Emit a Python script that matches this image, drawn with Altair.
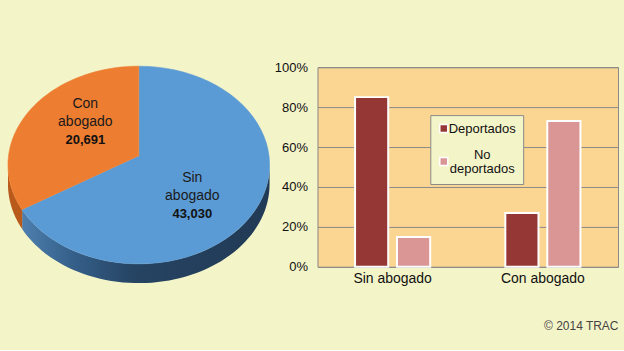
import altair as alt
import pandas as pd

# ---------------- data ----------------
pie_labels = ["Sin abogado", "Con abogado"]
pie_values = [43030, 20691]

bar_categories = ["Sin abogado", "Con abogado"]
series_names = ["Deportados", "No deportados"]
deportados = [85, 27]
no_deportados = [15, 73]
y_ticks = [0, 20, 40, 60, 80, 100]
credit = "© 2014 TRAC"

# ---------------- style ----------------
BG = "#F4F4C9"
PLOT_BG = "#FAD692"
GRID = "#8A8A8A"
FONT = "Arial, Liberation Sans, sans-serif"
PIE_COLORS = ["#5B9BD5", "#ED7D31"]
BAR_COLORS = ["#953735", "#D99694"]

pie_df = pd.DataFrame({"label": pie_labels, "value": pie_values,
                       "order": list(range(len(pie_labels)))})

rows = []
for i, c in enumerate(bar_categories):
    rows.append({"cat": c, "status": series_names[0], "pct": deportados[i]})
    rows.append({"cat": c, "status": series_names[1], "pct": no_deportados[i]})
bar_df = pd.DataFrame(rows)

# pie panel geometry (tilted ellipse drawn through x/y scales)
PW, PH = 280, 200
xs = alt.Scale(domain=[-138 / 131, (PW - 138) / 131], nice=False, zero=False)
ys = alt.Scale(domain=[-102 / 99, 98 / 99], nice=False, zero=False)
noaxis_x = alt.X("px:Q", scale=xs, axis=None)
noaxis_y = alt.Y("py:Q", scale=ys, axis=None)

base = (
    alt.Chart(pie_df)
    .transform_joinaggregate(total="sum(value)")
    .transform_window(cum="sum(value)", sort=[alt.SortField("order")], frame=[None, 0])
    .transform_calculate(
        a0="2*PI*(datum.cum - datum.value)/datum.total",
        a1="2*PI*datum.cum/datum.total",
    )
)

top = (
    base.transform_calculate(steps="sequence(0, 62)")
    .transform_flatten(["steps"], as_=["step"])
    .transform_calculate(
        ang="datum.a0 + (datum.a1 - datum.a0)*min(datum.step, 60)/60",
        px="datum.step <= 60 ? sin(datum.ang) : 0",
        py="datum.step <= 60 ? cos(datum.ang) : 0.09",
    )
    .mark_line(filled=True, strokeWidth=0.6)
    .encode(
        x=noaxis_x, y=noaxis_y, order=alt.Order("step:Q"),
        color=alt.Color("label:N", scale=alt.Scale(domain=pie_labels, range=PIE_COLORS), legend=None),
        stroke=alt.Stroke("label:N", scale=alt.Scale(domain=pie_labels, range=PIE_COLORS), legend=None),
        detail="label:N",
    )
)

side_base = (
    base.transform_calculate(b0="max(datum.a0, PI/2)", b1="min(datum.a1, 3*PI/2)")
    .transform_filter("datum.b1 > datum.b0")
    .transform_calculate(steps="sequence(0, 122)")
    .transform_flatten(["steps"], as_=["step"])
    .transform_calculate(
        ang="datum.step <= 60 ? datum.b0 + (datum.b1 - datum.b0)*datum.step/60 : datum.b1 - (datum.b1 - datum.b0)*(datum.step - 61)/60",
        px="sin(datum.ang)",
        py="cos(datum.ang) - (datum.step <= 60 ? 0 : 0.195)",
    )
)

blue_side = alt.LinearGradient(
    gradient="linear", x1=0, x2=1, y1=0, y2=0,
    stops=[alt.GradientStop(offset=0, color="#4E7FAE"),
           alt.GradientStop(offset=0.2, color="#35608A"),
           alt.GradientStop(offset=0.45, color="#264463"),
           alt.GradientStop(offset=1, color="#213A55")],
)
side_sin = (
    side_base.transform_filter(alt.datum.label == pie_labels[0])
    .mark_line(filled=True, fill=blue_side, strokeWidth=0)
    .encode(x=noaxis_x, y=noaxis_y, order=alt.Order("step:Q"))
)
side_con = (
    side_base.transform_filter(alt.datum.label == pie_labels[1])
    .mark_line(filled=True, fill="#B85A1C", strokeWidth=0)
    .encode(x=noaxis_x, y=noaxis_y, order=alt.Order("step:Q"))
)

lab = base.transform_calculate(
    mid="(datum.a0 + datum.a1)/2",
    px="0.48*sin(datum.mid)",
    py="0.7155*cos(datum.mid) + 0.06",
)
names = lab.mark_text(font=FONT, fontSize=14, lineBreak=" ", lineHeight=18,
                      baseline="middle", dy=-18, color="#1A1A1A").encode(
    x=noaxis_x, y=noaxis_y, text="label:N")
vals = lab.mark_text(font=FONT, fontSize=13, fontWeight="bold",
                     baseline="middle", dy=18, color="#111111").encode(
    x=noaxis_x, y=noaxis_y, text=alt.Text("value:Q", format=","))

pie = alt.layer(side_sin, side_con, top, names, vals).properties(
    width=PW, height=PH, view=alt.ViewBackground(stroke="transparent")
)

# ---------------- bar chart ----------------
bars = (
    alt.Chart(bar_df)
    .mark_bar(stroke="white", strokeWidth=2)
    .encode(
        x=alt.X("cat:N", sort=bar_categories,
                scale=alt.Scale(paddingInner=0.5, paddingOuter=0.25),
                axis=alt.Axis(title=None, labelAngle=0, labelFont=FONT, labelFontSize=14,
                              labelColor="#111111", ticks=False, tickSize=0, domain=False,
                              labelPadding=5, grid=False)),
        xOffset=alt.XOffset("status:N", sort=series_names,
                            scale=alt.Scale(paddingInner=0.21, paddingOuter=0)),
        y=alt.Y("pct:Q", scale=alt.Scale(domain=[0, 100], nice=False),
                axis=alt.Axis(title=None, values=y_ticks, labelExpr="datum.value + '%'",
                              labelFont=FONT, labelFontSize=13, labelColor="#111111",
                              ticks=False, tickSize=0, domain=False, labelPadding=10,
                              grid=True, gridColor=GRID, gridWidth=1)),
        color=alt.Color("status:N",
                        scale=alt.Scale(domain=series_names, range=BAR_COLORS),
                        legend=alt.Legend(
                            title=None, orient="none", legendX=113, legendY=48,
                            fillColor=BG, strokeColor=GRID, padding=7,
                            symbolType="square", symbolSize=64,
                            symbolStrokeColor="white", symbolStrokeWidth=1.5,
                            labelFont=FONT, labelFontSize=13, labelColor="#111111",
                            labelAlign="center", labelOffset=32,
                            labelBaseline=alt.ExprRef(expr="datum.label === 'No deportados' ? 'bottom' : 'middle'"),
                            labelExpr="split(datum.label, ' ')",
                            rowPadding=12)),
    )
    .properties(width=301, height=200,
                view=alt.ViewBackground(fill=PLOT_BG, stroke=GRID, strokeWidth=1))
)

chart = (
    alt.hconcat(pie, bars, spacing=37, bounds="flush")
    .resolve_scale(color="independent", stroke="independent")
    .properties(
        background=BG,
        padding={"left": 0, "top": 60, "right": 5, "bottom": 17},
        title=alt.TitleParams(credit, orient="bottom", anchor="end", font=FONT,
                              fontSize=12, fontWeight="normal", color="#444444", offset=35),
    )
)

chart.save("out.html", embed_options={"renderer": "svg", "actions": False})
